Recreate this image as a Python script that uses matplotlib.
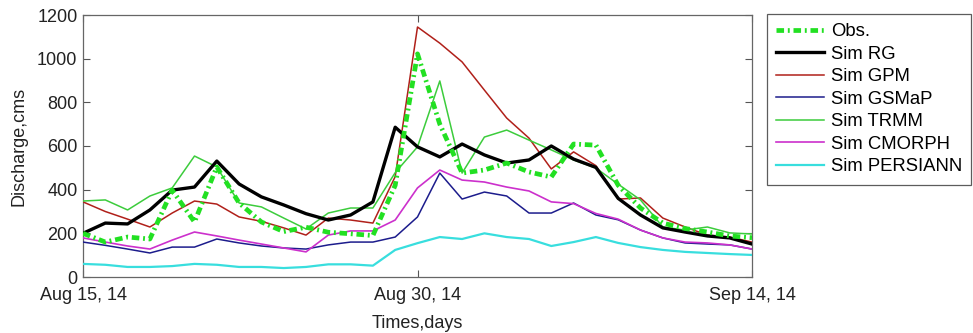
import matplotlib
matplotlib.use("Agg")
import matplotlib.pyplot as plt
import matplotlib.dates as mdates
import numpy as np
import datetime as dt

start = dt.date(2014, 8, 15)
dates = [start + dt.timedelta(days=i) for i in range(31)]

obs = [200, 160, 183, 174, 398, 252, 504, 339, 252, 208, 228, 205, 198, 190, 420, 1022,
       700, 476, 490, 522, 481, 458, 609, 604, 420, 316, 247, 222, 206, 188, 180]
rg = [200, 247, 243, 307, 398, 412, 531, 426, 367, 330, 290, 261, 284, 344, 686, 596,
      550, 609, 559, 522, 536, 600, 540, 502, 360, 284, 225, 206, 188, 179, 151]
gpm = [344, 300, 265, 229, 293, 348, 334, 275, 255, 225, 192, 270, 261, 247, 460, 1145,
       1071, 985, 856, 728, 636, 495, 573, 510, 357, 362, 270, 229, 192, 183, 160]
gsmap = [160, 145, 128, 110, 137, 137, 174, 156, 142, 133, 128, 147, 160, 160, 183, 275,
         476, 357, 389, 371, 293, 293, 339, 284, 262, 215, 179, 156, 151, 147, 128]
trmm = [348, 353, 307, 371, 408, 554, 504, 339, 321, 270, 220, 293, 316, 316, 478, 596,
        898, 476, 641, 673, 627, 582, 536, 499, 425, 353, 229, 215, 229, 202, 197]
cmorph = [179, 160, 142, 128, 169, 206, 188, 169, 151, 133, 115, 192, 211, 211, 261, 408,
          490, 444, 435, 412, 394, 344, 336, 291, 265, 215, 179, 160, 156, 147, 128]
persiann = [60, 56, 46, 46, 50, 60, 56, 46, 46, 41, 46, 58, 58, 52, 124, 155,
            183, 174, 200, 183, 174, 142, 160, 183, 156, 137, 124, 115, 110, 105, 101]

labels = ["Obs.", "Sim RG", "Sim GPM", "Sim GSMaP", "Sim TRMM", "Sim CMORPH", "Sim PERSIANN"]
yticks = [0, 200, 400, 600, 800, 1000, 1200]

plt.rcParams['font.family'] = ['Liberation Sans', 'DejaVu Sans']
plt.rcParams['font.size'] = 13

fig = plt.figure(figsize=(9.73, 3.33), dpi=100)
ax = fig.add_axes([83/973, 1-277/333, (752-83)/973, (277-15)/333])

ax.plot(dates, obs, color='#22e022', lw=3.4, linestyle=(0, (1.6, 0.8, 0.4, 0.8)), label=labels[0], zorder=5)
ax.plot(dates, rg, color='black', lw=2.4, label=labels[1], zorder=4)
ax.plot(dates, gpm, color='#b0201a', lw=1.1, label=labels[2], zorder=3)
ax.plot(dates, gsmap, color='#1c1c8c', lw=1.1, label=labels[3], zorder=3)
ax.plot(dates, trmm, color='#3ccc3c', lw=1.1, label=labels[4], zorder=3)
ax.plot(dates, cmorph, color='#cc30cc', lw=1.2, label=labels[5], zorder=3)
ax.plot(dates, persiann, color='#38dede', lw=1.6, label=labels[6], zorder=3)

ax.set_xlim(dates[0], dates[-1])
ax.set_ylim(0, 1200)
ax.set_yticks(yticks)
ax.set_xticks([dates[0], dates[15], dates[30]])
ax.xaxis.set_major_formatter(mdates.DateFormatter('%b %d, %y'))
ax.tick_params(direction='in', length=5, width=0.8, top=True, right=True,
               colors='#555555', labelcolor='#222222', labelsize=13)
ax.tick_params(axis='x', pad=7)
ax.tick_params(axis='y', pad=4)
for s in ax.spines.values():
    s.set_color('#666666')
    s.set_linewidth(0.9)

ax.set_ylabel('Discharge,cms', fontsize=13, color='#222222', labelpad=7)
ax.set_xlabel('Times,days', fontsize=13, color='#222222', labelpad=8)

leg = fig.legend(loc='upper left', bbox_to_anchor=(767/973, 1-14/333), borderaxespad=0,
                 fancybox=False, frameon=True, edgecolor='#333333', fontsize=13.3,
                 handlelength=2.6, handletextpad=0.35, labelspacing=0.3, borderpad=0.5)
leg.get_frame().set_linewidth(0.9)

fig.savefig('out.png', dpi=100)
